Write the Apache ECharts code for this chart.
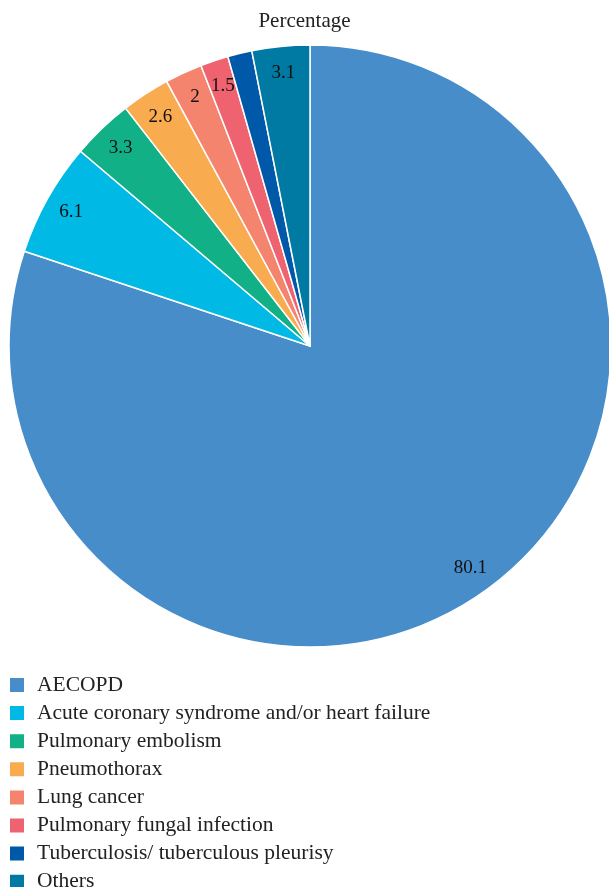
<!DOCTYPE html>
<html>
<head>
<meta charset="utf-8">
<script src="https://cdn.jsdelivr.net/npm/echarts@6/dist/echarts.min.js"></script>
<style>
  html, body { margin: 0; padding: 0; background: #fff; }
  #chart { width: 609px; height: 887px; }
</style>
</head>
<body>
<div id="chart"></div>
<script>
// Causes and their share (%)
const categories = [
  'AECOPD',
  'Acute coronary syndrome and/or heart failure',
  'Pulmonary embolism',
  'Pneumothorax',
  'Lung cancer',
  'Pulmonary fungal infection',
  'Tuberculosis/ tuberculous pleurisy',
  'Others'
];
const percentages = [80.1, 6.1, 3.3, 2.6, 2, 1.5, 1.3, 3.1];
const sliceColors = ['#468dca', '#00b9e4', '#12b086', '#f9ab4f', '#f5846f', '#ef6371', '#0059a8', '#0079a3'];

const FONT = '"Liberation Serif", "DejaVu Serif", serif';
const CX = 310, CY = 346, R = 301;

const pieData = categories.map((name, i) => ({
  name,
  value: percentages[i],
  itemStyle: { color: sliceColors[i] }
}));

const chart = echarts.init(document.getElementById('chart'), null, { renderer: 'canvas' });
chart.setOption({
  animation: false,
  title: {
    text: 'Percentage',
    left: 'center',
    top: 6,
    textStyle: { fontFamily: FONT, fontSize: 21, fontWeight: 'normal', color: '#222' }
  },
  legend: {
    orient: 'vertical',
    left: 8,
    top: 674,
    height: 240,
    padding: 0,
    data: categories,
    icon: 'rect',
    itemWidth: 16,
    itemHeight: 16,
    itemGap: 6.1,
    selectedMode: false,
    textStyle: { fontFamily: FONT, fontSize: 21.5, color: '#222', padding: [0, 0, 0, 7] }
  },
  series: [
    {
      type: 'pie',
      center: [CX, CY],
      radius: [0, R],
      startAngle: 90,
      clockwise: true,
      data: pieData,
      itemStyle: { borderColor: '#fff', borderWidth: 1.5 },
      label: { show: false },
      labelLine: { show: false },
      emphasis: { disabled: true }
    },
    {
      // ring used only to place the value labels near the rim
      type: 'pie',
      center: [CX, CY],
      radius: [R * 0.8, R],
      startAngle: 90,
      clockwise: true,
      silent: true,
      data: categories.map((name, i) => ({ name, value: percentages[i] })),
      itemStyle: { color: 'rgba(0,0,0,0)', borderWidth: 0 },
      label: {
        show: true,
        position: 'inside',
        formatter: p => String(p.value),
        fontFamily: FONT,
        fontSize: 19,
        color: '#111'
      },
      labelLine: { show: false },
      emphasis: { disabled: true }
    }
  ]
});
</script>
</body>
</html>
